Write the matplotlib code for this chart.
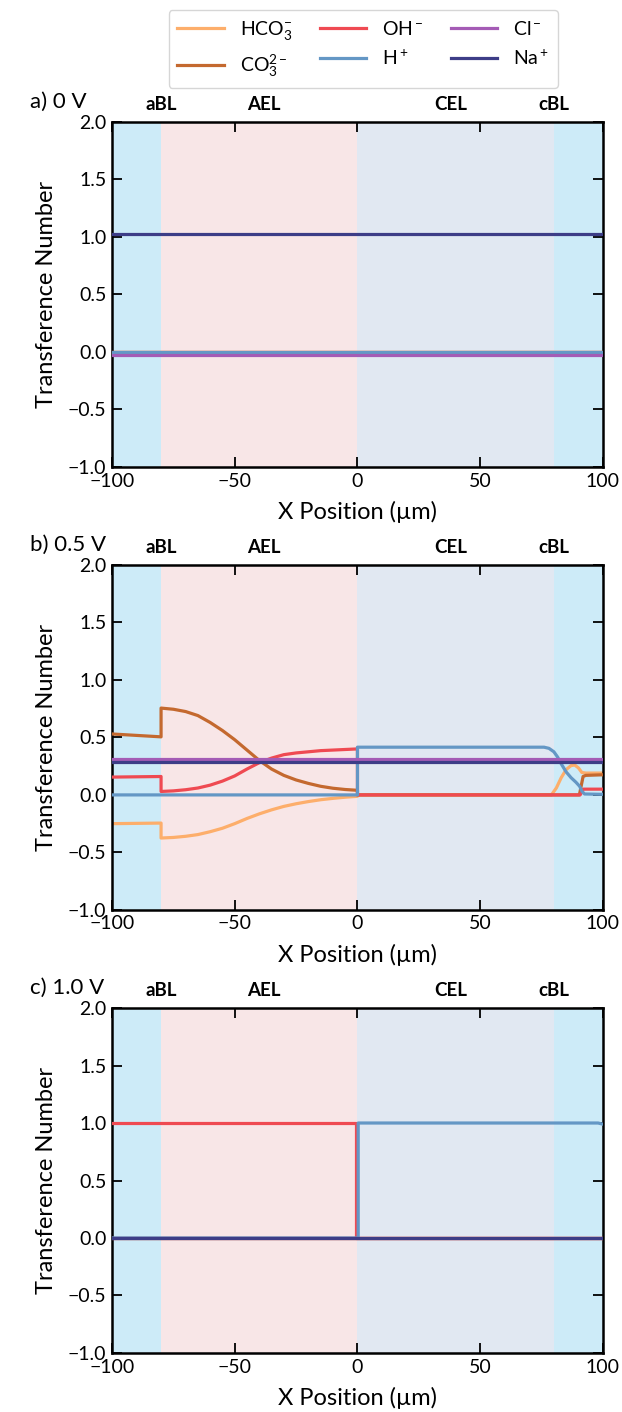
import matplotlib
matplotlib.use("Agg")
import matplotlib.pyplot as plt
import matplotlib.transforms as mtransforms

plt.rcParams['font.family'] = ['Lato', 'DejaVu Sans']
plt.rcParams['mathtext.fontset'] = 'custom'
plt.rcParams['mathtext.rm'] = 'Lato'
plt.rcParams['mathtext.it'] = 'Lato:italic'
plt.rcParams['mathtext.bf'] = 'Lato:bold'

# species / colours
species = [r'HCO$_3^{-}$', r'CO$_3^{2-}$', r'OH$^-$', r'H$^+$', r'Cl$^-$', r'Na$^+$']
colors = ['#fdae6b', '#c4692f', '#ef4a52', '#6497c5', '#a45bb5', '#3d3d87']

# layers
regions = ['aBL', 'AEL', 'CEL', 'cBL']
region_edges = [-100, -80, 0, 80, 100]
region_colors = ['#cdebf8', '#f8e6e7', '#e1e8f2', '#cdebf8']
region_label_x = [-80, -38, 38, 80]

titles = ['a) 0 V', 'b) 0.5 V', 'c) 1.0 V']

# ---- a) 0 V : flat profiles
a_x = [-100, 100]
a_hco3 = [0.0, 0.0]
a_co3 = [0.0, 0.0]
a_oh = [0.0, 0.0]
a_h = [0.0, 0.0]
a_cl = [-0.03, -0.03]
a_na = [1.03, 1.03]

# ---- b) 0.5 V
# anion exchange layer points (-80 .. 0)
ael_x = [-80, -75, -70, -65, -60, -55, -50, -45, -40, -35, -30, -25, -20, -15, -10, -5, 0]
ael_hco3 = [-0.375, -0.37, -0.36, -0.345, -0.32, -0.29, -0.25, -0.205, -0.165, -0.13, -0.10,
            -0.077, -0.058, -0.042, -0.03, -0.02, -0.012]
ael_co3 = [0.755, 0.745, 0.725, 0.69, 0.63, 0.56, 0.48, 0.39, 0.30, 0.225, 0.17, 0.13,
           0.10, 0.075, 0.058, 0.047, 0.04]
ael_oh = [0.03, 0.035, 0.045, 0.06, 0.085, 0.12, 0.165, 0.225, 0.28, 0.32, 0.35, 0.365,
          0.375, 0.385, 0.39, 0.395, 0.40]

# anode boundary layer (-100 .. -80)
abl_x = [-100, -80]
abl_hco3 = [-0.25, -0.245]
abl_co3 = [0.53, 0.505]
abl_oh = [0.155, 0.16]

# cathode side (0 .. 100)
b_hco3_cx = [0, 79, 81, 83, 85, 87, 88.5, 90, 91.4, 93, 100]
b_hco3_cy = [0.0, 0.0, 0.06, 0.15, 0.22, 0.255, 0.26, 0.235, 0.195, 0.19, 0.19]
b_co3_cx = [0, 90.4, 91.9, 93, 100]
b_co3_cy = [0.0, 0.0, 0.16, 0.17, 0.175]
b_oh_cx = [0, 90.7, 92, 100]
b_oh_cy = [0.0, 0.0, 0.05, 0.05]
b_h_x = [-100, 0, 0, 76, 78, 80, 81.5, 83, 85, 87, 89, 90.5, 91.5, 92.5, 100]
b_h_y = [0.0, 0.0, 0.415, 0.415, 0.405, 0.375, 0.33, 0.27, 0.20, 0.15, 0.11, 0.075, 0.03, 0.008, 0.005]
b_cl = [0.31, 0.31]
b_na = [0.29, 0.29]

# ---- c) 1.0 V
c_oh_x = [-100, -0.5, -0.5, 100]
c_oh_y = [1.0, 1.0, 0.0, 0.0]
c_h_x = [-100, 0.3, 0.3, 98, 100]
c_h_y = [0.0, 0.0, 1.0, 1.0, 0.99]
c_zero = [0.0, 0.0]

panel_a = [(a_x, a_hco3), (a_x, a_co3), (a_x, a_oh), (a_x, a_h), (a_x, a_cl), (a_x, a_na)]
panel_b = [
    (abl_x + ael_x + b_hco3_cx, abl_hco3 + ael_hco3 + b_hco3_cy),
    (abl_x + ael_x + b_co3_cx, abl_co3 + ael_co3 + b_co3_cy),
    (abl_x + ael_x + b_oh_cx, abl_oh + ael_oh + b_oh_cy),
    (b_h_x, b_h_y),
    (a_x, b_cl),
    (a_x, b_na),
]
panel_c = [(a_x, c_zero), (a_x, c_zero), (c_oh_x, c_oh_y), (c_h_x, c_h_y), (a_x, c_zero), (a_x, c_zero)]

fig = plt.figure(figsize=(6.22, 14.12), dpi=100)
tops = [0.9136, 0.5999, 0.2861]
height = 0.2443
handles = []
for k, data in enumerate([panel_a, panel_b, panel_c]):
    ax = fig.add_axes([0.180, tops[k] - height, 0.7894, height])
    for i in range(4):
        ax.axvspan(region_edges[i], region_edges[i + 1], color=region_colors[i], lw=0, zorder=0)
    for j, (xs, ys) in enumerate(data):
        ln, = ax.plot(xs, ys, color=colors[j], lw=2.3, label=species[j], zorder=2 + j)
        if k == 0:
            handles.append(ln)
    ax.set_xlim(-100, 100)
    ax.set_ylim(-1, 2)
    ax.set_xticks([-100, -50, 0, 50, 100])
    ax.set_yticks([-1.0, -0.5, 0.0, 0.5, 1.0, 1.5, 2.0])
    ax.tick_params(direction='in', top=True, right=True, length=7, width=1.3, labelsize=14, pad=4)
    for s in ax.spines.values():
        s.set_linewidth(1.8)
    ax.set_xlabel('X Position (µm)', fontsize=17, labelpad=8)
    ax.set_ylabel('Transference Number', fontsize=17, labelpad=8)
    trans = mtransforms.blended_transform_factory(ax.transData, ax.transAxes)
    for name, xl in zip(regions, region_label_x):
        ax.text(xl, 1.025, name, transform=trans, ha='center', va='bottom',
                fontsize=13.5, fontweight='bold')
    ax.text(-0.167, 1.03, titles[k], transform=ax.transAxes, ha='left', va='bottom', fontsize=16)

fig.legend(handles=handles, loc='upper center', bbox_to_anchor=(0.584, 0.993), ncol=3,
           fontsize=14, handlelength=2.4, columnspacing=1.4, handletextpad=0.8,
           borderpad=0.45, labelspacing=0.55, borderaxespad=0, frameon=True, edgecolor='#cccccc')

fig.savefig('out.png', dpi=100)
